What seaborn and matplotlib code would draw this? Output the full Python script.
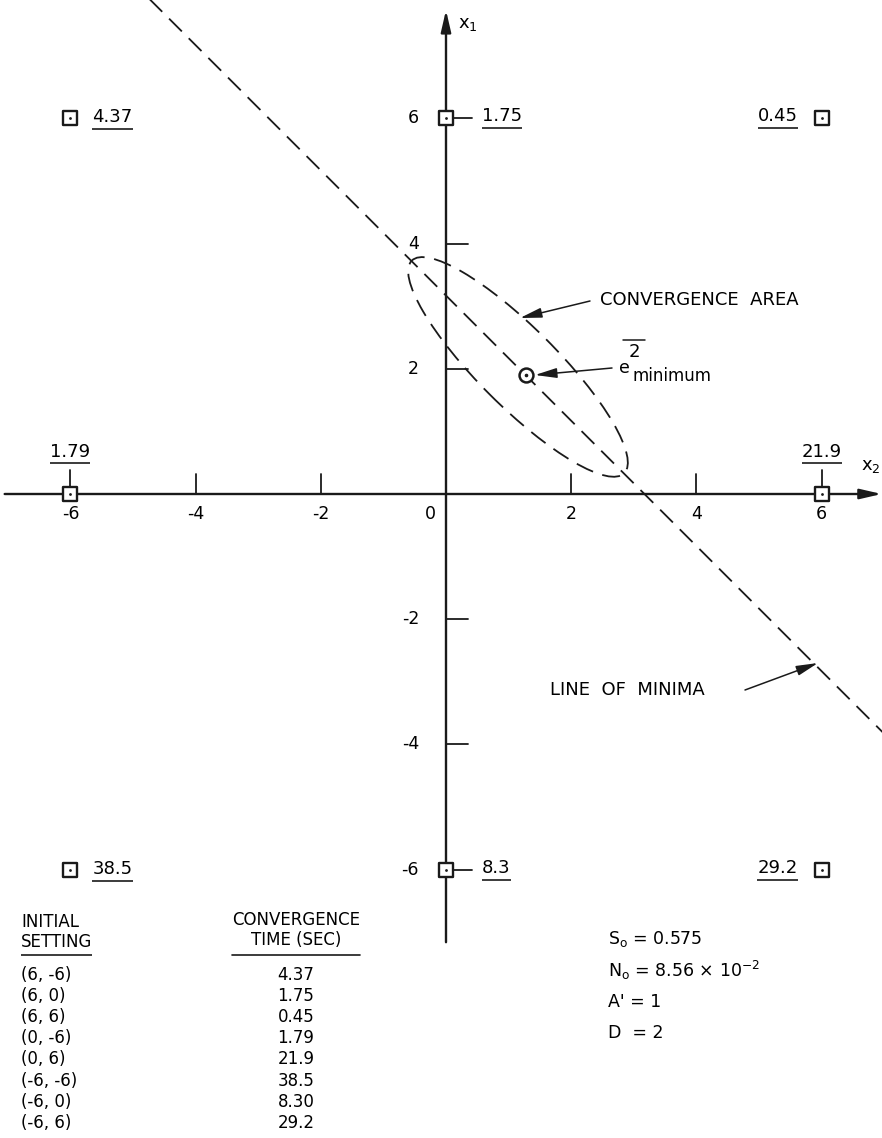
import matplotlib
matplotlib.use("Agg")
import matplotlib.pyplot as plt
import numpy as np
import pandas as pd
import seaborn as sns
from matplotlib.patches import Ellipse

# Initial settings (x1, x2) and the convergence time measured from each
init_x1 = [6, 6, 6, 0, 0, -6, -6, -6]
init_x2 = [-6, 0, 6, -6, 6, -6, 0, 6]
conv_time = [4.37, 1.75, 0.45, 1.79, 21.9, 38.5, 8.30, 29.2]
table_time_text = ["4.37", "1.75", "0.45", "1.79", "21.9", "38.5", "8.30", "29.2"]

x2_tick_values = [-6, -4, -2, 0, 2, 4, 6]
x1_tick_values = [-6, -4, -2, 2, 4, 6]

# Mean-square error minimum (x2, x1) and the line of minima x1 = c - x2
e2_minimum = (1.28, 1.90)
minima_line_c = 3.17

# Convergence area around the minimum
area_center = (1.15, 2.03)
area_major = 4.8
area_minor = 1.26
area_angle = -45.0

param_lines = ["S$_{o}$ = 0.575", "N$_{o}$ = 8.56 × 10$^{-2}$", "A' = 1", "D  = 2"]

sns.set_theme(style="white")
plt.rcParams["font.family"] = ["DejaVu Sans"]
plt.rcParams["mathtext.default"] = "regular"
plt.rcParams["lines.scale_dashes"] = False
plt.rcParams["text.color"] = "black"

W, H = 882, 1138
UNIT = 62.6            # pixels per axis unit
OX, OY = 446, 494      # pixel position of the origin

fig = plt.figure(figsize=(W / 100, H / 100), dpi=100)
ax = fig.add_axes([0, 0, 1, 1])
ax.set_xlim(-OX / UNIT, (W - OX) / UNIT)
ax.set_ylim((OY - H) / UNIT, OY / UNIT)
ax.axis("off")
d = 1.0 / UNIT


def P(px, py):
    """pixel position -> data position"""
    return ((px - OX) / UNIT, (OY - py) / UNIT)


renderer = fig.canvas.get_renderer()
inv = ax.transData.inverted()


def underline(t, below_px, lw=1.2):
    bb = t.get_window_extent(renderer=renderer)
    x0, _ = inv.transform((bb.x0, 0))
    x1, _ = inv.transform((bb.x1, 0))
    _, y_ = t.get_position()
    ax.plot([x0, x1], [y_ - below_px * d] * 2, color="k", lw=lw, solid_capstyle="butt")


K = "k"
AX_LW = 1.7
arrow_axis = dict(arrowstyle="-|>,head_length=1.3,head_width=0.3", color=K, lw=AX_LW,
                  shrinkA=0, shrinkB=0, mutation_scale=10)

# coordinate axes with arrow heads
ax.annotate("", xy=(6.96, 0), xytext=(-7.05, 0), arrowprops=arrow_axis, zorder=2,
            annotation_clip=False)
ax.annotate("", xy=(0, 7.73), xytext=(0, -7.16), arrowprops=arrow_axis, zorder=2,
            annotation_clip=False)
ax.text(*P(458, 24), "x$_{1}$", fontsize=13, ha="left", va="center")
ax.text(*P(861, 466), "x$_{2}$", fontsize=13, ha="left", va="center")

# tick marks
for v in x2_tick_values:
    if v not in (0, -6, 6):
        ax.plot([v, v], [0, 20 * d], color=K, lw=1.3)
    xl = v if v != 0 else -16 * d
    ax.text(xl, -20 * d, f"{v}", fontsize=12.5, ha="center", va="center")
for v in x1_tick_values:
    if v not in (-6, 6):
        ax.plot([0, 22 * d], [v, v], color=K, lw=1.3)
    ax.text(-27 * d, v, f"{v}", fontsize=12.5, ha="right", va="center")

# line of minima
lx = np.array([-5.3, 7.3])
ax.plot(lx, minima_line_c - lx, color=K, lw=1.3, dashes=(13, 7))

# convergence area
ax.add_patch(Ellipse(area_center, area_major, area_minor, angle=area_angle,
                     fill=False, edgecolor=K, lw=1.3, linestyle=(0, (13, 7))))

# error minimum
ax.plot([e2_minimum[0]], [e2_minimum[1]], marker="o", ms=10, mfc="white", mec=K,
        mew=1.8, zorder=5)
ax.plot([e2_minimum[0]], [e2_minimum[1]], marker="o", ms=1.6, color=K, zorder=6)

# starting points and their convergence times
pts = pd.DataFrame({"x2": init_x2, "x1": init_x1, "t": conv_time})
sns.scatterplot(data=pts, x="x2", y="x1", marker="s", s=110, facecolor="white",
                edgecolor=K, linewidth=1.7, zorder=5, ax=ax, legend=False)
sns.scatterplot(data=pts, x="x2", y="x1", marker="o", s=4, color=K, linewidth=0,
                zorder=6, ax=ax, legend=False)

for x2v, x1v, tv in zip(init_x2, init_x1, conv_time):
    label = f"{tv:g}"
    if x1v == 0:
        ax.plot([x2v, x2v], [x1v + 8 * d, x1v + 24 * d], color=K, lw=1.3)
        t = ax.text(x2v, x1v + 37 * d, label, fontsize=13, ha="center", va="baseline")
        underline(t, 6)
    elif x2v == 0:
        ax.plot([x2v + 8 * d, x2v + 26 * d], [x1v, x1v], color=K, lw=1.3)
        t = ax.text(x2v + 36 * d, x1v - 3 * d, label, fontsize=13, ha="left", va="baseline")
        underline(t, 7)
    elif x2v < 0:
        t = ax.text(x2v + 22 * d, x1v - 4 * d, label, fontsize=13, ha="left", va="baseline")
        underline(t, 7)
    else:
        t = ax.text(x2v - 24 * d, x1v - 3 * d, label, fontsize=13, ha="right", va="baseline")
        underline(t, 7)

arrow_note = dict(arrowstyle="-|>,head_length=1.1,head_width=0.25", color=K, lw=1.1,
                  shrinkA=0, shrinkB=0, mutation_scale=12)

# annotations
ax.text(*P(600, 300), "CONVERGENCE  AREA", fontsize=13, ha="left", va="center")
ax.annotate("", xy=P(520, 318), xytext=P(590, 301), arrowprops=arrow_note)

ax.text(*P(619, 373), "e", fontsize=12.5, ha="left", va="baseline")
ax.text(*P(629, 357), "2", fontsize=13, ha="left", va="baseline")
ax.plot(*zip(P(623, 340), P(645, 340)), color=K, lw=1.1)
ax.text(*P(632, 381), "minimum", fontsize=12, ha="left", va="baseline")
ax.annotate("", xy=P(535, 375), xytext=P(612, 368), arrowprops=arrow_note)

ax.text(*P(550, 690), "LINE  OF  MINIMA", fontsize=13, ha="left", va="center")
ax.annotate("", xy=P(818, 663), xytext=P(745, 690), arrowprops=arrow_note)

# table of settings and times
TX0, TX1 = 21, 296
ax.text(*P(TX0, 922), "INITIAL", fontsize=12, ha="left", va="center")
t = ax.text(*P(TX0, 942), "SETTING", fontsize=12, ha="left", va="center")
underline(t, 13)
t1 = ax.text(*P(TX1, 920), "CONVERGENCE", fontsize=12, ha="center", va="center")
ax.text(*P(TX1, 940), "TIME (SEC)", fontsize=12, ha="center", va="center")
bb = t1.get_window_extent(renderer=renderer)
xa, _ = inv.transform((bb.x0, 0))
xb, _ = inv.transform((bb.x1, 0))
ax.plot([xa, xb], [P(0, 955)[1]] * 2, color=K, lw=1.2)

for i, (x1v, x2v, tt) in enumerate(zip(init_x1, init_x2, table_time_text)):
    yy = 975 + 21.1 * i
    ax.text(*P(TX0, yy), f"({x1v}, {x2v})", fontsize=12, ha="left", va="center")
    ax.text(*P(TX1, yy), tt, fontsize=12, ha="center", va="center")

for i, s in enumerate(param_lines):
    ax.text(*P(608, [939, 970, 1002, 1033][i]), s, fontsize=12.5, ha="left", va="center")

fig.savefig("out.png", dpi=100)
